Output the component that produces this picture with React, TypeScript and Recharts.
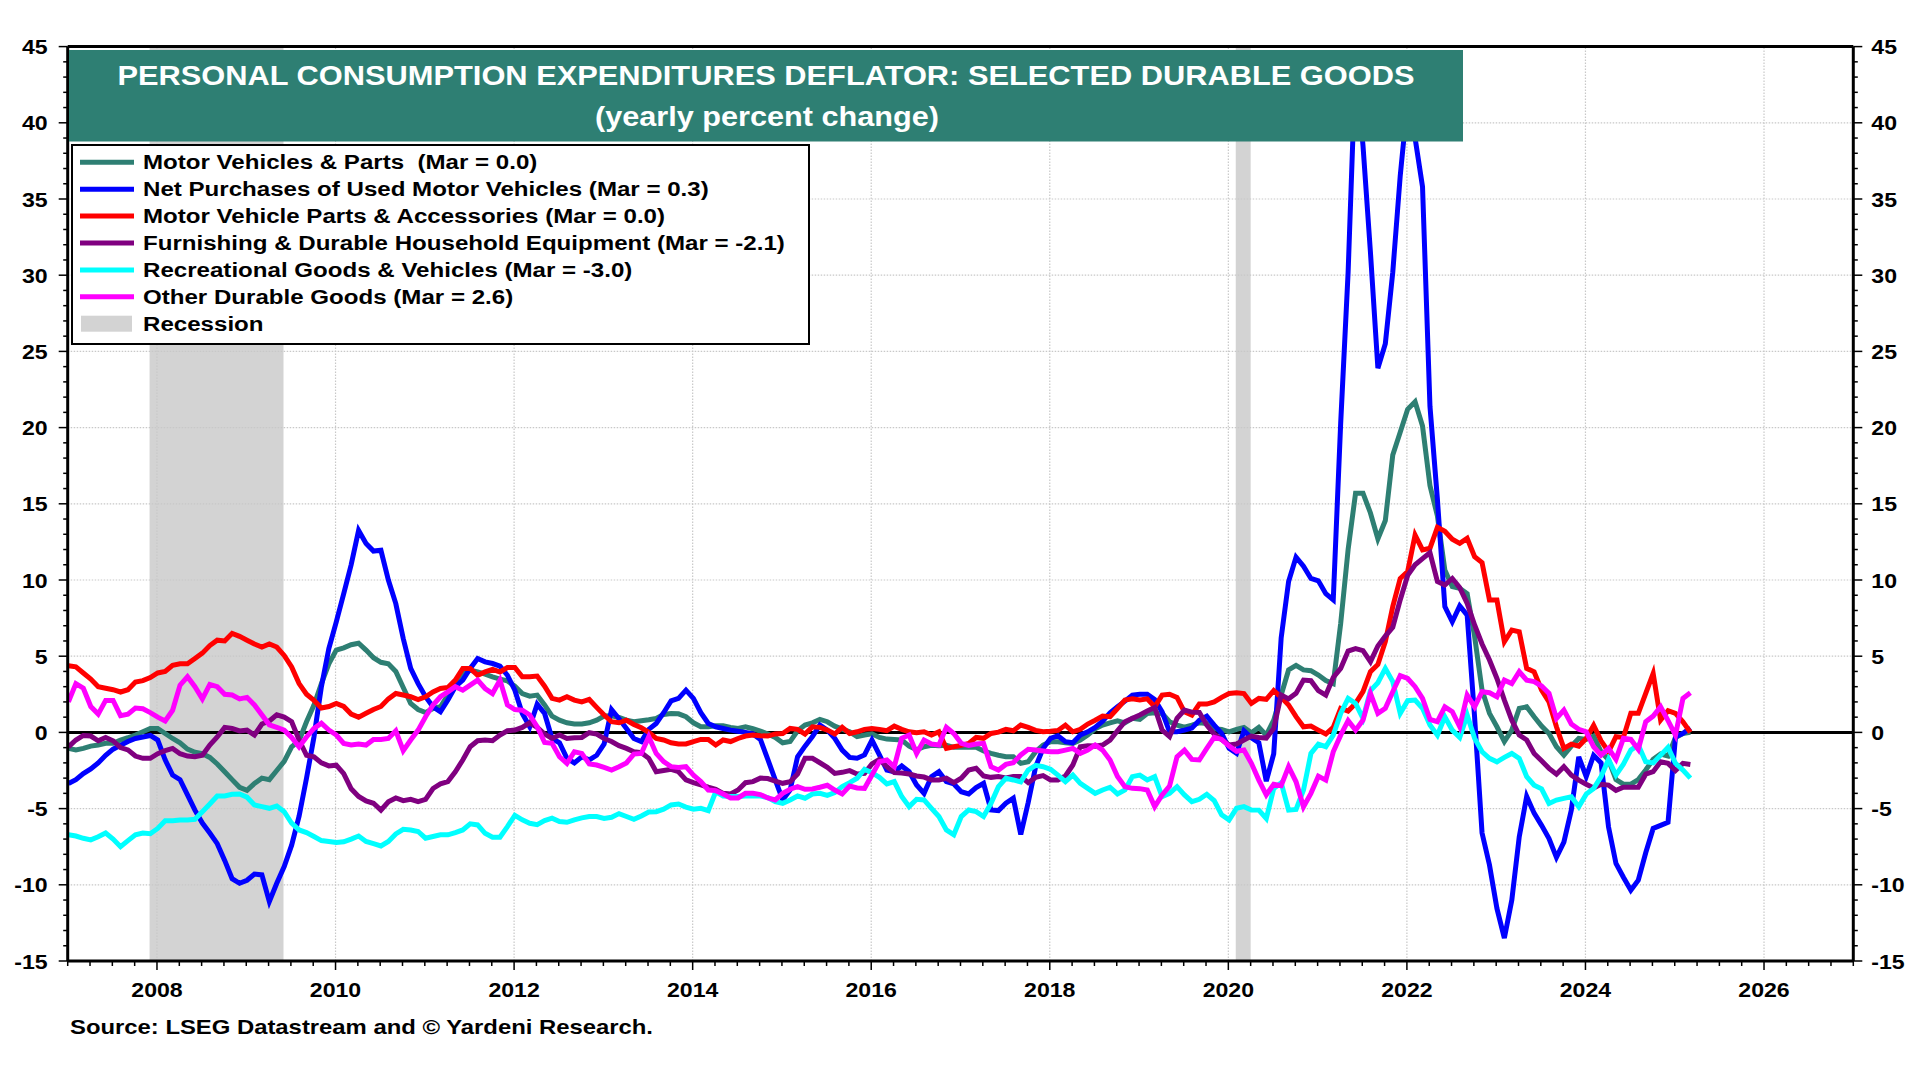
import React from 'react';
import { ComposedChart, Line, XAxis, YAxis, ReferenceLine, ReferenceArea } from 'recharts';

// monthly yearly % change, Jan 2007 .. Mar 2025
const START_YEAR = 2007;

const motorVehicles = [
  -1.05, -1.15, -1.05, -0.9, -0.83, -0.72, -0.72, -0.5, -0.35, -0.17, 0.04, 0.26,
  0.26, -0.07, -0.4, -0.68, -1.1, -1.3, -1.4, -1.64, -2.07, -2.58, -3.1, -3.6,
  -3.8, -3.35, -3.0, -3.1, -2.5, -1.9, -0.95, -0.55, 0.7, 1.8, 3.2, 4.5,
  5.4, 5.55, 5.75, 5.85, 5.4, 4.9, 4.6, 4.5, 4.0, 2.95, 1.9, 1.5,
  1.3, 1.57, 1.68, 2.45, 3.2, 3.86, 4.08, 3.97, 3.82, 3.65, 3.5, 3.38,
  3.03, 2.55, 2.38, 2.45, 1.8, 1.07, 0.8, 0.63, 0.55, 0.55, 0.63, 0.8,
  1.07, 1.09, 0.98, 0.8, 0.7, 0.76, 0.83, 0.92, 1.18, 1.24, 1.22, 1.03,
  0.63, 0.37, 0.37, 0.44, 0.44, 0.33, 0.26, 0.37, 0.24, 0.09, -0.11, -0.33,
  -0.68, -0.6, 0.11, 0.48, 0.63, 0.85, 0.7, 0.41, 0.22, 0.04, -0.28, -0.17,
  -0.09, -0.33, -0.44, -0.46, -0.5, -0.9, -1.14, -0.94, -0.85, -0.87, -0.85, -0.98,
  -0.98, -0.98, -0.98, -1.22, -1.38, -1.5, -1.6, -1.6, -2.03, -1.92, -1.27, -0.83,
  -0.61, -0.61, -0.68, -0.72, -0.5, -0.17, 0.24, 0.48, 0.63, 0.76, 0.63, 0.92,
  0.85, 1.24, 1.29, 1.24, 0.7, 0.48, 0.35, 0.48, 0.63, 0.59, 0.24, 0.2,
  0.04, 0.2, 0.33, -0.02, 0.33, -0.18, 0.8, 2.45, 4.1, 4.4, 4.1, 4.05,
  3.76, 3.4, 3.2, 7.15, 12.0, 15.7, 15.7, 14.4, 12.7, 13.9, 18.2, 19.7,
  21.2, 21.7, 20.1, 16.2, 14.2, 10.65, 9.56, 9.45, 9.1, 6.3, 2.78, 1.25,
  0.37, -0.6, 0.15, 1.58, 1.68, 1.03, 0.42, -0.07, -0.94, -1.49, -0.9, -0.4,
  -0.46, -0.24, -1.27, -1.8, -3.1, -3.4, -3.4, -3.1, -2.47, -1.77, -1.42, -1.55,
  -0.33, -0.07, 0.0,
];

const usedVehicles = [
  -3.35, -3.1, -2.7, -2.4, -2.0, -1.5, -1.1, -0.85, -0.6, -0.4, -0.3, -0.2,
  -0.5, -1.8, -2.8, -3.1, -4.1, -5.1, -5.95, -6.6, -7.3, -8.4, -9.6, -9.9,
  -9.7, -9.3, -9.35, -11.1, -9.9, -8.8, -7.4, -5.5, -3.0, -0.3, 3.0, 5.5,
  7.25, 9.1, 11.0, 13.25, 12.4, 11.9, 11.95, 10.0, 8.45, 6.16, 4.2, 3.2,
  2.34, 1.68, 1.35, 2.12, 3.0, 3.43, 4.2, 4.85, 4.63, 4.52, 4.35, 3.75,
  2.77, 1.24, 0.37, 1.85, 1.24, -0.4, -0.68, -1.7, -2.0, -1.6, -1.8, -1.5,
  -0.76, 1.5, 0.9, 0.26, -0.4, -0.6, 0.2, 0.59, 1.29, 2.07, 2.23, 2.77,
  2.23, 1.29, 0.59, 0.37, 0.26, 0.15, 0.07, 0.0, -0.1, -0.46, -1.77, -3.12,
  -4.43, -3.78, -1.6, -0.9, -0.28, 0.48, 0.15, -0.39, -1.16, -1.64, -1.7, -1.48,
  -0.5, -1.48, -2.47, -2.58, -2.2, -2.58, -3.45, -4.0, -2.9, -2.58, -3.23, -3.38,
  -3.89, -4.04, -3.62, -3.34, -5.09, -5.13, -4.65, -4.32, -6.7, -4.6, -2.25, -1.05,
  -0.39, -0.22, -0.61, -0.68, -0.17, 0.04, 0.33, 0.74, 1.29, 1.68, 2.05, 2.45,
  2.5, 2.5, 2.16, 1.35, 0.04, 0.04, 0.15, 0.28, 0.8, 1.07, 0.48, -0.07,
  -1.05, -1.38, 0.11, -0.35, -0.68, -3.2, -1.4, 6.2, 9.9, 11.5, 10.9, 10.1,
  9.95, 9.1, 8.7, 20.3, 30.2, 44.0, 38.5, 31.5, 23.9, 25.5, 30.2, 36.5,
  41.5, 39.0, 35.8, 21.4, 15.3, 8.25, 7.26, 8.3, 7.7, 1.0, -6.6, -8.7,
  -11.55, -13.5, -11.0, -6.85, -4.2, -5.3, -6.1, -6.96, -8.2, -7.2, -5.1, -1.6,
  -2.9, -1.5, -2.0, -6.2, -8.6, -9.5, -10.35, -9.7, -7.9, -6.3, -6.1, -5.9,
  -0.3, -0.07, 0.3,
];

const partsAccessories = [
  4.37, 4.3, 3.9, 3.5, 3.0, 2.9, 2.8, 2.65, 2.8, 3.3, 3.4, 3.6,
  3.9, 4.0, 4.4, 4.5, 4.5, 4.85, 5.2, 5.7, 6.05, 6.0, 6.5, 6.3,
  6.05, 5.8, 5.6, 5.8, 5.6, 5.05, 4.3, 3.2, 2.5, 2.1, 1.6, 1.7,
  1.9, 1.7, 1.2, 1.0, 1.25, 1.5, 1.7, 2.2, 2.55, 2.45, 2.34, 2.16,
  2.34, 2.66, 2.88, 2.95, 3.43, 4.2, 4.2, 3.75, 3.97, 4.13, 3.97, 4.26,
  4.26, 3.65, 3.65, 3.7, 3.03, 2.23, 2.12, 2.34, 2.12, 2.0, 2.16, 1.64,
  1.14, 0.7, 0.63, 0.8, 0.52, 0.3, 0.0, -0.4, -0.5, -0.68, -0.76, -0.76,
  -0.6, -0.46, -0.46, -0.83, -0.5, -0.6, -0.4, -0.24, -0.17, -0.22, -0.24, -0.1,
  -0.07, 0.26, 0.2, -0.11, 0.37, 0.33, 0.15, -0.11, 0.33, -0.07, 0.04, 0.2,
  0.26, 0.2, 0.11, 0.41, 0.2, 0.04, -0.02, 0.04, -0.17, 0.04, -1.05, -0.94,
  -0.85, -0.72, -0.33, -0.39, -0.07, 0.02, 0.2, 0.11, 0.48, 0.33, 0.13, 0.04,
  0.07, 0.13, 0.48, 0.04, 0.2, 0.55, 0.8, 1.07, 1.03, 1.57, 2.12, 2.2,
  2.12, 2.2, 1.68, 2.45, 2.5, 2.3, 1.35, 1.14, 1.86, 1.86, 2.0, 2.3,
  2.55, 2.6, 2.55, 1.9, 2.23, 2.17, 2.74, 2.3, 1.8, 1.03, 0.37, 0.42,
  0.15, -0.11, 0.33, 1.58, 1.4, 1.9, 2.67, 3.98, 4.46, 5.95, 8.25, 10.1,
  10.55, 12.95, 11.97, 12.08, 13.46, 13.2, 12.67, 12.4, 12.73, 11.53, 11.14, 8.69,
  8.69, 5.95, 6.72, 6.6, 4.2, 3.98, 2.78, 2.0, 0.37, -1.05, -0.77, -0.9,
  -0.4, 0.46, -0.55, -1.27, -0.28, -0.33, 1.25, 1.25, 2.56, 3.87, 0.81, 1.42,
  1.25, 0.7, 0.0,
];

const furnishings = [
  -0.95, -0.5, -0.2, -0.24, -0.55, -0.33, -0.55, -1.0, -1.15, -1.55, -1.7, -1.7,
  -1.4, -1.2, -1.05, -1.4, -1.55, -1.6, -1.5, -0.83, -0.3, 0.33, 0.26, 0.1,
  0.15, -0.17, 0.55, 0.75, 1.15, 1.0, 0.7, -0.5, -1.5, -1.6, -2.0, -2.2,
  -2.15, -2.7, -3.7, -4.2, -4.5, -4.65, -5.1, -4.55, -4.3, -4.48, -4.39, -4.54,
  -4.39, -3.68, -3.38, -3.23, -2.58, -1.81, -0.94, -0.55, -0.5, -0.55, -0.17, 0.11,
  0.15, 0.33, 0.63, 0.33, -0.11, -0.4, -0.17, -0.4, -0.35, -0.33, -0.02, -0.11,
  -0.4, -0.6, -0.87, -1.05, -1.27, -1.33, -1.7, -2.58, -2.5, -2.42, -2.58, -3.12,
  -3.3, -3.45, -3.6, -3.73, -4.0, -4.04, -3.78, -3.3, -3.23, -3.0, -3.03, -3.19,
  -3.34, -3.23, -2.73, -1.7, -1.7, -1.99, -2.29, -2.69, -2.62, -2.51, -2.73, -2.69,
  -2.07, -1.77, -2.25, -2.64, -2.66, -2.73, -2.86, -2.93, -3.12, -3.12, -3.01, -3.3,
  -3.01, -2.47, -2.36, -2.86, -2.95, -2.9, -2.99, -2.9, -2.9, -3.3, -2.95, -2.84,
  -3.12, -3.12, -2.86, -2.14, -0.94, -0.87, -0.9, -0.83, -0.5, 0.11, 0.7, 0.92,
  1.14, 1.4, 1.64, 0.15, -0.28, 0.92, 1.46, 1.33, 1.31, 0.48, -0.11, -0.46,
  -0.83, -0.76, -0.5, -0.24, -0.33, -0.37, 0.26, 2.45, 2.2, 2.56, 3.43, 3.39,
  2.74, 2.45, 3.6, 4.2, 5.34, 5.5, 5.36, 4.64, 5.67, 6.32, 6.9, 8.69,
  10.3, 11.0, 11.4, 11.8, 9.9, 9.67, 10.1, 9.5, 8.47, 7.05, 5.8, 4.75,
  3.54, 2.12, 0.8, -0.18, -0.5, -1.38, -1.86, -2.36, -2.74, -2.25, -2.8, -3.13,
  -3.4, -3.65, -3.4, -3.46, -3.8, -3.6, -3.6, -3.6, -2.74, -2.58, -1.93, -2.03,
  -2.5, -2.03, -2.1,
];

const recreational = [
  -6.72, -6.8, -6.95, -7.05, -6.85, -6.6, -7.0, -7.5, -7.1, -6.72, -6.6, -6.65,
  -6.3, -5.8, -5.8, -5.75, -5.75, -5.7, -5.2, -4.7, -4.17, -4.17, -4.06, -4.04,
  -4.25, -4.76, -4.87, -4.98, -4.83, -5.2, -5.96, -6.4, -6.57, -6.83, -7.1, -7.16,
  -7.23, -7.18, -7.0, -6.8, -7.16, -7.3, -7.45, -7.16, -6.66, -6.36, -6.4, -6.5,
  -6.94, -6.83, -6.72, -6.72, -6.57, -6.4, -6.0, -6.07, -6.62, -6.88, -6.88, -6.18,
  -5.44, -5.74, -5.96, -6.05, -5.79, -5.63, -5.85, -5.9, -5.74, -5.61, -5.52, -5.52,
  -5.65, -5.57, -5.33, -5.52, -5.7, -5.48, -5.22, -5.2, -5.04, -4.76, -4.7, -4.9,
  -5.04, -4.98, -5.13, -3.9, -4.17, -4.2, -4.2, -4.17, -4.17, -4.17, -4.28, -4.54,
  -4.65, -4.43, -4.17, -4.32, -4.04, -4.0, -4.13, -3.95, -3.56, -3.3, -3.01, -2.42,
  -2.64, -2.95, -3.38, -3.23, -4.21, -4.87, -4.39, -4.43, -4.98, -5.52, -6.4, -6.72,
  -5.52, -5.09, -5.2, -5.52, -4.65, -3.56, -3.01, -3.12, -3.25, -2.47, -2.16, -2.25,
  -2.42, -2.8, -3.23, -2.8, -3.34, -3.67, -4.0, -3.78, -3.6, -4.04, -3.78, -2.9,
  -2.8, -3.12, -2.9, -4.21, -4.0, -3.56, -4.1, -4.54, -4.39, -4.06, -4.48, -5.41,
  -5.74, -4.98, -4.87, -5.09, -5.1, -5.65, -3.68, -3.3, -5.1, -5.05, -3.79, -1.38,
  -0.77, -0.94, -0.18, 1.25, 2.23, 1.9, 0.92, 2.74, 3.26, 4.2, 3.33, 1.25,
  2.08, 2.12, 1.58, 0.48, -0.18, 1.03, 0.15, -0.33, 1.14, -0.39, -1.27, -1.7,
  -1.93, -1.64, -1.38, -1.7, -2.9, -3.46, -3.7, -4.66, -4.44, -4.33, -4.22, -4.88,
  -4.05, -3.68, -2.9, -1.77, -2.8, -2.08, -1.16, -0.83, -1.93, -2.0, -1.49, -0.98,
  -2.03, -2.47, -3.0,
];

const otherDurables = [
  2.0, 3.2, 2.9, 1.7, 1.2, 2.1, 2.1, 1.1, 1.2, 1.6, 1.55, 1.3,
  1.0, 0.75, 1.45, 3.1, 3.65, 3.0, 2.2, 3.15, 3.0, 2.5, 2.45, 2.2,
  2.3, 1.8, 1.15, 0.5, 0.33, 0.15, -0.33, -0.95, -0.3, 0.26, 0.6, 0.15,
  -0.17, -0.72, -0.83, -0.76, -0.83, -0.46, -0.46, -0.4, 0.1, -1.2, -0.5, 0.15,
  1.03, 1.8, 2.34, 2.66, 3.0, 2.77, 3.1, 3.43, 2.88, 2.55, 3.43, 1.8,
  1.5, 1.46, 1.14, 0.37, -0.66, -0.72, -1.6, -2.03, -1.27, -1.38, -2.07, -2.14,
  -2.3, -2.47, -2.25, -2.0, -1.42, -1.38, -0.28, -1.38, -1.92, -2.25, -2.3, -2.25,
  -2.8, -3.23, -3.78, -3.82, -4.04, -4.3, -4.3, -4.0, -4.0, -4.08, -4.3, -4.43,
  -4.0, -3.73, -3.56, -3.73, -3.71, -3.6, -3.47, -3.78, -4.04, -3.52, -3.65, -3.67,
  -2.8, -1.92, -1.81, -2.25, -0.39, -0.17, -1.38, -0.5, -0.76, -0.83, 0.33, -0.07,
  -0.72, -0.85, -0.76, -0.72, -2.25, -2.47, -2.1, -1.99, -1.48, -1.11, -1.16, -1.22,
  -1.27, -1.27, -1.16, -1.05, -1.38, -1.16, -0.83, -1.16, -1.81, -2.9, -3.56, -3.67,
  -3.69, -3.78, -4.87, -4.1, -3.52, -1.6, -1.16, -1.77, -1.81, -1.05, -0.33, -0.46,
  -0.9, -1.24, -1.16, -2.03, -3.13, -4.1, -3.4, -3.5, -2.25, -3.24, -4.88, -4.0,
  -2.87, -3.13, -1.27, -0.18, 0.77, 0.15, 0.81, 2.56, 1.25, 1.58, 2.67, 3.72,
  3.54, 3.0, 2.23, 0.85, 0.7, 1.68, 1.36, 0.37, 2.45, 1.68, 2.67, 2.6,
  2.34, 3.43, 3.2, 3.98, 3.43, 3.33, 3.04, 2.56, 0.92, 1.47, 0.55, 0.2,
  0.04, -0.94, -1.49, -1.05, -1.77, -0.39, -0.46, -1.12, 0.7, 1.07, 1.68, 0.77,
  -0.18, 2.23, 2.6,
];

const seriesInfo = [
  { key: 'motorVehicles', label: 'Motor Vehicles & Parts  (Mar = 0.0)', color: '#2E7F73' },
  { key: 'usedVehicles', label: 'Net Purchases of Used Motor Vehicles (Mar = 0.3)', color: '#0000FF' },
  { key: 'partsAccessories', label: 'Motor Vehicle Parts & Accessories (Mar = 0.0)', color: '#FF0000' },
  { key: 'furnishings', label: 'Furnishing & Durable Household Equipment (Mar = -2.1)', color: '#800080' },
  { key: 'recreational', label: 'Recreational Goods & Vehicles (Mar = -3.0)', color: '#00FFFF' },
  { key: 'otherDurables', label: 'Other Durable Goods (Mar = 2.6)', color: '#FF00FF' },
];

const recessions = [
  { from: 2007.917, to: 2009.417 },
  { from: 2020.083, to: 2020.25 },
];

const yearLabels = [2008, 2010, 2012, 2014, 2016, 2018, 2020, 2022, 2024, 2026];
const yLabels = [-15, -10, -5, 0, 5, 10, 15, 20, 25, 30, 35, 40, 45];

const xTicks: number[] = [];
for (let q = 0; q <= 80; q++) xTicks.push(START_YEAR + q / 4);
const yTicks: number[] = [];
for (let v = -15; v <= 45; v++) yTicks.push(v);

const rows = motorVehicles.map((_, i) => ({
  t: START_YEAR + (i + 0.1) / 12,
  motorVehicles: motorVehicles[i],
  usedVehicles: usedVehicles[i],
  partsAccessories: partsAccessories[i],
  furnishings: furnishings[i],
  recreational: recreational[i],
  otherDurables: otherDurables[i],
}));

const FONT = 'Arial, "Liberation Sans", Helvetica, sans-serif';
const TEAL = '#2E7F73';
const STRETCH = 1.1;

const stretch = (ax: number, k = STRETCH) => `translate(${ax},0) scale(${k},1) translate(${-ax},0)`;

const XTick = (props: any) => {
  const { x, y, payload } = props;
  const v = payload.value;
  const major = yearLabels.some((yr) => Math.abs(yr - v) < 1e-6);
  return (
    <g>
      <line x1={x} x2={x} y1={y} y2={y + (major ? 9 : 5)} stroke="#000" strokeWidth={1.5} />
      {major && (
        <text x={x} y={y + 36} textAnchor="middle" fontSize={21} fontWeight="bold" fontFamily={FONT} fill="#000" transform={stretch(x)}>
          {Math.round(v)}
        </text>
      )}
    </g>
  );
};

const LeftTick = (props: any) => {
  const { x, y, payload } = props;
  const v = payload.value;
  const major = yLabels.includes(v);
  return (
    <g>
      <line x1={x - (major ? 9 : 4.5)} x2={x} y1={y} y2={y} stroke="#000" strokeWidth={1.5} />
      {major && (
        <text x={x - 20} y={y} dy="0.36em" textAnchor="end" fontSize={21} fontWeight="bold" fontFamily={FONT} fill="#000" transform={stretch(x - 20)}>
          {v}
        </text>
      )}
    </g>
  );
};

const RightTick = (props: any) => {
  const { x, y, payload } = props;
  const v = payload.value;
  const major = yLabels.includes(v);
  return (
    <g>
      <line x1={x} x2={x + (major ? 9 : 4.5)} y1={y} y2={y} stroke="#000" strokeWidth={1.5} />
      {major && (
        <text x={x + 18} y={y} dy="0.36em" textAnchor="start" fontSize={21} fontWeight="bold" fontFamily={FONT} fill="#000" transform={stretch(x + 18)}>
          {v}
        </text>
      )}
    </g>
  );
};

const Overlay = () => {
  const rowBase = 169.3;
  const rowGap = 26.9;
  return (
    <svg width={1920} height={1080} style={{ position: 'absolute', left: 0, top: 0, pointerEvents: 'none' }}>
      <rect x={69} y={50} width={1394} height={91.5} fill={TEAL} />
      <text x={766} y={85} textAnchor="middle" fontSize={28} fontWeight="bold" fontFamily={FONT} fill="#fff" textLength={1297} lengthAdjust="spacingAndGlyphs">
        PERSONAL CONSUMPTION EXPENDITURES DEFLATOR: SELECTED DURABLE GOODS
      </text>
      <text x={767} y={126} textAnchor="middle" fontSize={27} fontWeight="bold" fontFamily={FONT} fill="#fff" textLength={344} lengthAdjust="spacingAndGlyphs">
        (yearly percent change)
      </text>

      <rect x={72} y={145} width={737} height={199} fill="#fff" stroke="#000" strokeWidth={2} />
      {seriesInfo.map((s, i) => {
        const base = rowBase + i * rowGap;
        return (
          <g key={s.key}>
            <line x1={80} x2={134} y1={base - 7} y2={base - 7} stroke={s.color} strokeWidth={5} />
            <text x={143} y={base} fontSize={21} fontWeight="bold" fontFamily={FONT} fill="#000" style={{ whiteSpace: 'pre' }} transform={stretch(143, 1.148)}>
              {s.label}
            </text>
          </g>
        );
      })}
      <rect x={81} y={rowBase + 6 * rowGap - 15} width={51} height={16} fill="#D3D3D3" />
      <text x={143} y={rowBase + 6 * rowGap} fontSize={21} fontWeight="bold" fontFamily={FONT} fill="#000" transform={stretch(143, 1.148)}>
        Recession
      </text>

      <text x={70} y={1034} fontSize={21} fontWeight="bold" fontFamily={FONT} fill="#000" textLength={583} lengthAdjust="spacingAndGlyphs">
        Source: LSEG Datastream and © Yardeni Research.
      </text>
    </svg>
  );
};

const gridY = yLabels.filter((v) => v !== 0 && v !== 45 && v !== -15);

export default function App() {
  return (
    <div style={{ position: 'absolute', left: 0, top: 0, width: 1920, height: 1080, background: '#fff', fontFamily: FONT }}>
      <ComposedChart width={1920} height={1080} data={rows} margin={{ top: 46.6, right: 0, bottom: 0, left: 0 }}>
        <XAxis
          dataKey="t"
          type="number"
          domain={[2007, 2027]}
          ticks={xTicks}
          interval={0}
          height={119}
          allowDataOverflow
          axisLine={{ stroke: '#000', strokeWidth: 3 }}
          tickLine={false}
          tickSize={0}
          tickMargin={0}
          tick={(p: any) => <XTick {...p} />}
        />
        <YAxis
          yAxisId="left"
          orientation="left"
          domain={[-15, 45]}
          ticks={yTicks}
          interval={0}
          width={67.7}
          allowDataOverflow
          axisLine={{ stroke: '#000', strokeWidth: 3 }}
          tickLine={false}
          tickSize={0}
          tickMargin={0}
          tick={(p: any) => <LeftTick {...p} />}
        />
        <YAxis
          yAxisId="right"
          orientation="right"
          domain={[-15, 45]}
          ticks={yTicks}
          interval={0}
          width={66.7}
          allowDataOverflow
          axisLine={{ stroke: '#000', strokeWidth: 3 }}
          tickLine={false}
          tickSize={0}
          tickMargin={0}
          tick={(p: any) => <RightTick {...p} />}
        />
        {recessions.map((r) => (
          <ReferenceArea key={r.from} yAxisId="left" x1={r.from} x2={r.to} y1={-15} y2={45} fill="#D3D3D3" fillOpacity={1} stroke="none" />
        ))}
        {gridY.map((v) => (
          <ReferenceLine key={`gy${v}`} yAxisId="left" y={v} stroke="#c8c8c8" strokeDasharray="1.5 1.5" strokeWidth={1.2} />
        ))}
        {yearLabels.map((v) => (
          <ReferenceLine key={`gx${v}`} yAxisId="left" x={v} stroke="#c8c8c8" strokeDasharray="1.5 1.5" strokeWidth={1.2} />
        ))}
        <ReferenceLine yAxisId="left" y={0} stroke="#000" strokeWidth={3} />
        {seriesInfo.map((s) => (
          <Line
            key={s.key}
            yAxisId="left"
            dataKey={s.key}
            type="linear"
            stroke={s.color}
            strokeWidth={5}
            dot={false}
            activeDot={false}
            isAnimationActive={false}
          />
        ))}
        <ReferenceLine yAxisId="left" y={45} stroke="#000" strokeWidth={3} />
      </ComposedChart>
      <Overlay />
    </div>
  );
}
